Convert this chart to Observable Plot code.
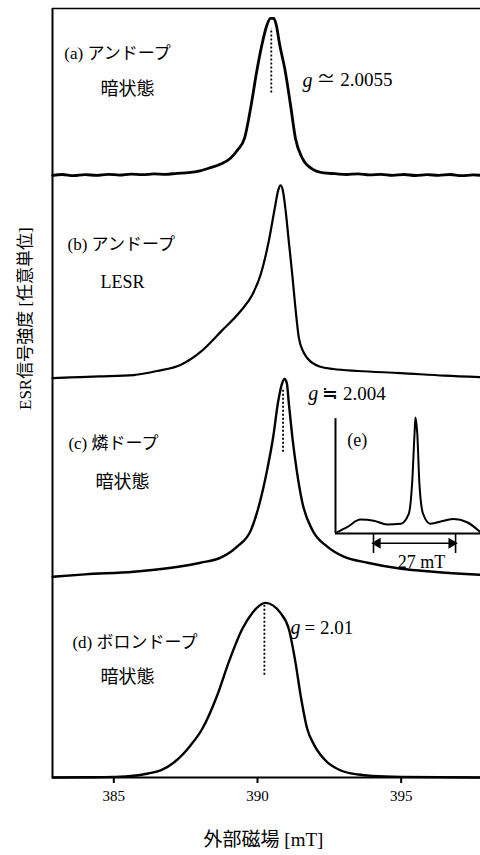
<!DOCTYPE html>
<html>
<head>
<meta charset="utf-8">
<script src="https://cdn.jsdelivr.net/npm/d3@7"></script>
<script src="https://cdn.jsdelivr.net/npm/@observablehq/plot@0.6"></script>
<style>
  html, body { margin: 0; padding: 0; background: #fff; overflow: hidden; }
  #chart { position: relative; width: 480px; height: 855px; }
  #inset { position: absolute; left: 333px; top: 416px; }
  g[aria-label="panel-name"] text { letter-spacing: 3px; }
  g[aria-label="panel-state"] text { letter-spacing: 4px; }
  g[aria-label="y-title"] text { letter-spacing: 3px; }
  g[aria-label="x-title"] text { letter-spacing: 1px; }
</style>
</head>
<body>
<div id="chart"><div id="main"></div><div id="inset"></div></div>
<script>
// ESR spectra of a-Si:H samples, field in mT, intensity in arbitrary units
const panelNames = ["(a) アンドープ", "(b) アンドープ", "(c) 燐ドープ", "(d) ボロンドープ"];
const panelStates = ["暗状態", "LESR", "暗状態", "暗状態"];
const gSymbols = ["g", "g", "g"];
const gValues = ["≃ 2.0055", "≒ 2.004", "= 2.01"];
const gPanels = [0, 2, 3];
const gFields = [390.48, 390.89, 390.24];
const xTicks = [385, 390, 395];
const xTitle = "外部磁場 [mT]";
const yTitle = "ESR信号強度 [任意単位]";

// (a) undoped, dark
const fieldA = [382.87, 383.2, 383.6, 384.0, 384.4, 384.8, 385.2, 385.6, 386.0, 386.4, 386.8, 387.2, 387.6, 388.0, 388.3, 388.7, 389.06, 389.3, 389.55, 389.78, 389.97, 390.2, 390.32, 390.45, 390.57, 390.66, 390.76, 390.97, 391.15, 391.32, 391.56, 391.9, 392.3, 392.7, 393.1, 393.5, 393.9, 394.3, 394.7, 395.1, 395.5, 395.9, 396.3, 396.7, 397.1, 397.5, 397.76];
const intensityA = [0.000, 0.004, -0.002, 0.003, 0.000, 0.005, 0.001, 0.006, 0.003, 0.007, 0.005, 0.010, 0.013, 0.022, 0.035, 0.055, 0.085, 0.125, 0.185, 0.35, 0.515, 0.68, 0.745, 0.782, 0.782, 0.745, 0.66, 0.515, 0.35, 0.185, 0.085, 0.032, 0.012, 0.008, 0.004, 0.007, 0.002, 0.005, 0.000, 0.004, -0.001, 0.003, 0.000, 0.004, -0.002, 0.002, 0.000];

// (b) undoped, light-induced ESR
const fieldB = [382.87, 383.5, 384.5, 385.69, 386.5, 387.32, 388.02, 388.72, 389.42, 389.82, 390.11, 390.39, 390.6, 390.72, 390.8, 390.88, 390.97, 391.09, 391.21, 391.32, 391.44, 391.6, 391.73, 392.19, 392.64, 393.5, 394.98, 396.5, 397.76];
const intensityB = [0.000, 0.003, 0.008, 0.015, 0.035, 0.065, 0.13, 0.23, 0.335, 0.415, 0.515, 0.68, 0.845, 0.935, 0.96, 0.935, 0.845, 0.68, 0.515, 0.35, 0.20, 0.13, 0.10, 0.056, 0.045, 0.035, 0.025, 0.012, 0.005];

// (c) phosphorus doped, dark
const fieldC = [382.87, 384.0, 385.69, 387.0, 388.02, 388.72, 389.29, 389.78, 390.08, 390.34, 390.55, 390.71, 390.86, 390.94, 391.02, 391.09, 391.21, 391.36, 391.56, 391.9, 392.43, 393.0, 393.83, 395.0, 396.12, 397.76];
const intensityC = [0.000, 0.012, 0.025, 0.045, 0.07, 0.095, 0.15, 0.235, 0.37, 0.535, 0.70, 0.865, 0.965, 0.985, 0.965, 0.865, 0.70, 0.535, 0.37, 0.235, 0.15, 0.10, 0.07, 0.04, 0.025, 0.01];

// (d) boron doped, dark
const fieldD = [382.87, 384.0, 385.0, 385.5, 386.2, 386.63, 387.09, 387.67, 388.08, 388.6, 389.0, 389.47, 389.82, 390.28, 390.8, 391.09, 391.32, 391.5, 391.73, 391.98, 392.43, 392.9, 393.5, 394.0, 395.0, 397.76];
const intensityD = [0.000, 0.001, 0.003, 0.006, 0.02, 0.035, 0.075, 0.16, 0.243, 0.41, 0.575, 0.74, 0.82, 0.87, 0.82, 0.74, 0.575, 0.41, 0.243, 0.16, 0.076, 0.035, 0.015, 0.008, 0.003, 0.000];

// (e) phosphorus doped, wide sweep showing the hyperfine doublet
const fieldE = [365.2, 368.4, 372.8, 377.2, 381.6, 386.0, 388.7, 389.8, 390.6, 390.9, 391.5, 392.2, 393.4, 395.8, 400.2, 403.5, 407.9, 412.3];
const intensityE = [0.011, 0.054, 0.12, 0.11, 0.078, 0.084, 0.17, 0.43, 0.86, 1.0, 0.86, 0.43, 0.17, 0.084, 0.11, 0.126, 0.097, 0.011];
const splittingStart = [377.1];
const splitting = [27];
const splittingLabel = ["27 mT"];
const insetLabel = ["(e)"];

// ---- layout ----
const serif = "'Liberation Serif', 'Noto Sans CJK JP', serif";
const xDomain = [382.867, 397.76];
const yTop = 3.831;
const panelOffsets = [3, 1.99, 1, 0];
const lineWidths = [2.8, 2.2, 2.4, 2.4];
const nameAt = [[383.28, 0.607], [383.39, 0.666], [383.42, 0.664], [383.56, 0.673]];
const stateAt = [[384.54, 0.428], [384.54, 0.476], [384.36, 0.470], [384.54, 0.498]];
const gAt = [[391.57, 0.473], [391.77, 0.913], [391.15, 0.747]];
const gDots = [[0.41, 0.73], [0.62, 0.93], [0.51, 0.857]];

const spectra = [[fieldA, intensityA], [fieldB, intensityB], [fieldC, intensityC], [fieldD, intensityD]];
const rows = spectra.flatMap(([f, v], i) => f.map((x, j) => ({panel: i, field: x, y: panelOffsets[i] + v[j]})));

const names = panelNames.map((t, i) => ({text: t, x: nameAt[i][0], y: panelOffsets[i] + nameAt[i][1]}));
const states = panelStates.map((t, i) => ({text: t, x: stateAt[i][0], y: panelOffsets[i] + stateAt[i][1]}));
const gRows = gValues.map((t, i) => ({
  sym: gSymbols[i], text: t, x: gAt[i][0], y: panelOffsets[gPanels[i]] + gAt[i][1],
  field: gFields[i], y1: panelOffsets[gPanels[i]] + gDots[i][0], y2: panelOffsets[gPanels[i]] + gDots[i][1]
}));

const main = Plot.plot({
  width: 480,
  height: 855,
  marginLeft: 52,
  marginRight: 0,
  marginTop: 8,
  marginBottom: 78,
  x: {domain: xDomain, axis: null},
  y: {domain: [0, yTop], axis: null},
  style: {fontFamily: serif, fontSize: "15px", color: "#000", background: "#fff"},
  marks: [
    Plot.ruleY([0], {strokeWidth: 2}),
    Plot.ruleY([yTop], {strokeWidth: 1.6}),
    Plot.ruleX([xDomain[0]], {y1: 0, y2: yTop, strokeWidth: 2}),
    Plot.axisY({ticks: panelOffsets.slice(0, 3), tickSize: -5, tickFormat: () => "", label: null, strokeWidth: 1.5}),
    ...spectra.map((_, i) => Plot.line(rows.filter(d => d.panel === i), {
      x: "field", y: "y", curve: "monotone-x", strokeWidth: lineWidths[i], strokeLinejoin: "round"
    })),
    Plot.ruleX(gRows, {x: "field", y1: "y1", y2: "y2", strokeWidth: 1.8, strokeDasharray: "2,2"}),
    Plot.text(names, {x: "x", y: "y", text: "text", textAnchor: "start", lineAnchor: "middle", fontSize: 17, ariaLabel: "panel-name"}),
    Plot.text(states, {x: "x", y: "y", text: "text", textAnchor: "start", lineAnchor: "middle", fontSize: 18, ariaLabel: "panel-state"}),
    Plot.text(gRows, {x: "x", y: "y", text: "sym", textAnchor: "start", lineAnchor: "middle", fontSize: 20, fontStyle: "italic"}),
    Plot.text(gRows, {x: "x", y: "y", text: "text", textAnchor: "start", lineAnchor: "middle", fontSize: 19, dx: 14}),
    Plot.axisX({ticks: xTicks, tickSize: 6, tickPadding: 7, strokeWidth: 2, label: null, tickFormat: d => String(d), ariaLabel: "field-axis"}),
    Plot.text([xTitle], {frameAnchor: "bottom", dx: -3, dy: 62, fontSize: 19, lineAnchor: "middle", ariaLabel: "x-title"}),
    Plot.text([yTitle], {frameAnchor: "left", rotate: -90, dx: -27, dy: 17, fontSize: 17, lineAnchor: "middle", ariaLabel: "y-title"})
  ]
});
document.getElementById("main").appendChild(main);

// larger numerals on the field axis
d3.select(main).selectAll("text")
  .filter(function () { return xTicks.map(String).includes(this.textContent.trim()); })
  .attr("font-size", 15).style("font-size", "15px");
d3.select(main).selectAll("g")
  .filter(function () { return /x-axis tick label|field-axis/.test(this.getAttribute("aria-label") || ""); })
  .attr("font-size", 15).style("font-size", "15px");

// inset (e)
const insetRows = fieldE.map((f, i) => ({field: f, y: intensityE[i]}));
const from = splittingStart[0];
const to = from + splitting[0];
const arrowY = -0.084;
const inset = Plot.plot({
  width: 147,
  height: 160,
  marginLeft: 2,
  marginRight: 0,
  marginTop: 1,
  marginBottom: 43,
  x: {domain: [364.6, 412.3], axis: null},
  y: {domain: [0, 1], axis: null},
  style: {fontFamily: serif, fontSize: "18px", color: "#000", background: "transparent", overflow: "visible"},
  marks: [
    Plot.ruleX([364.6], {y1: 0, y2: 0.99, strokeWidth: 2}),
    Plot.ruleY([0], {strokeWidth: 2}),
    Plot.line(insetRows, {x: "field", y: "y", curve: "monotone-x", strokeWidth: 2}),
    Plot.text(insetLabel, {x: 368.5, y: 0.80, textAnchor: "start", lineAnchor: "middle", fontSize: 18}),
    Plot.ruleX([from, to], {y1: 0, y2: -0.172, strokeWidth: 1.6}),
    Plot.ruleY([arrowY], {x1: from, x2: to, strokeWidth: 1.6}),
    Plot.dot([from], {x: d => d, y: () => arrowY, symbol: "triangle", rotate: -90, r: 4, fill: "#000", stroke: "none", dx: 4}),
    Plot.dot([to], {x: d => d, y: () => arrowY, symbol: "triangle", rotate: 90, r: 4, fill: "#000", stroke: "none", dx: -4}),
    Plot.text(splittingLabel, {x: () => (from + to) / 2, y: () => -0.247, dx: 7, lineAnchor: "middle", fontSize: 18})
  ]
});
document.getElementById("inset").appendChild(inset);
</script>
</body>
</html>
